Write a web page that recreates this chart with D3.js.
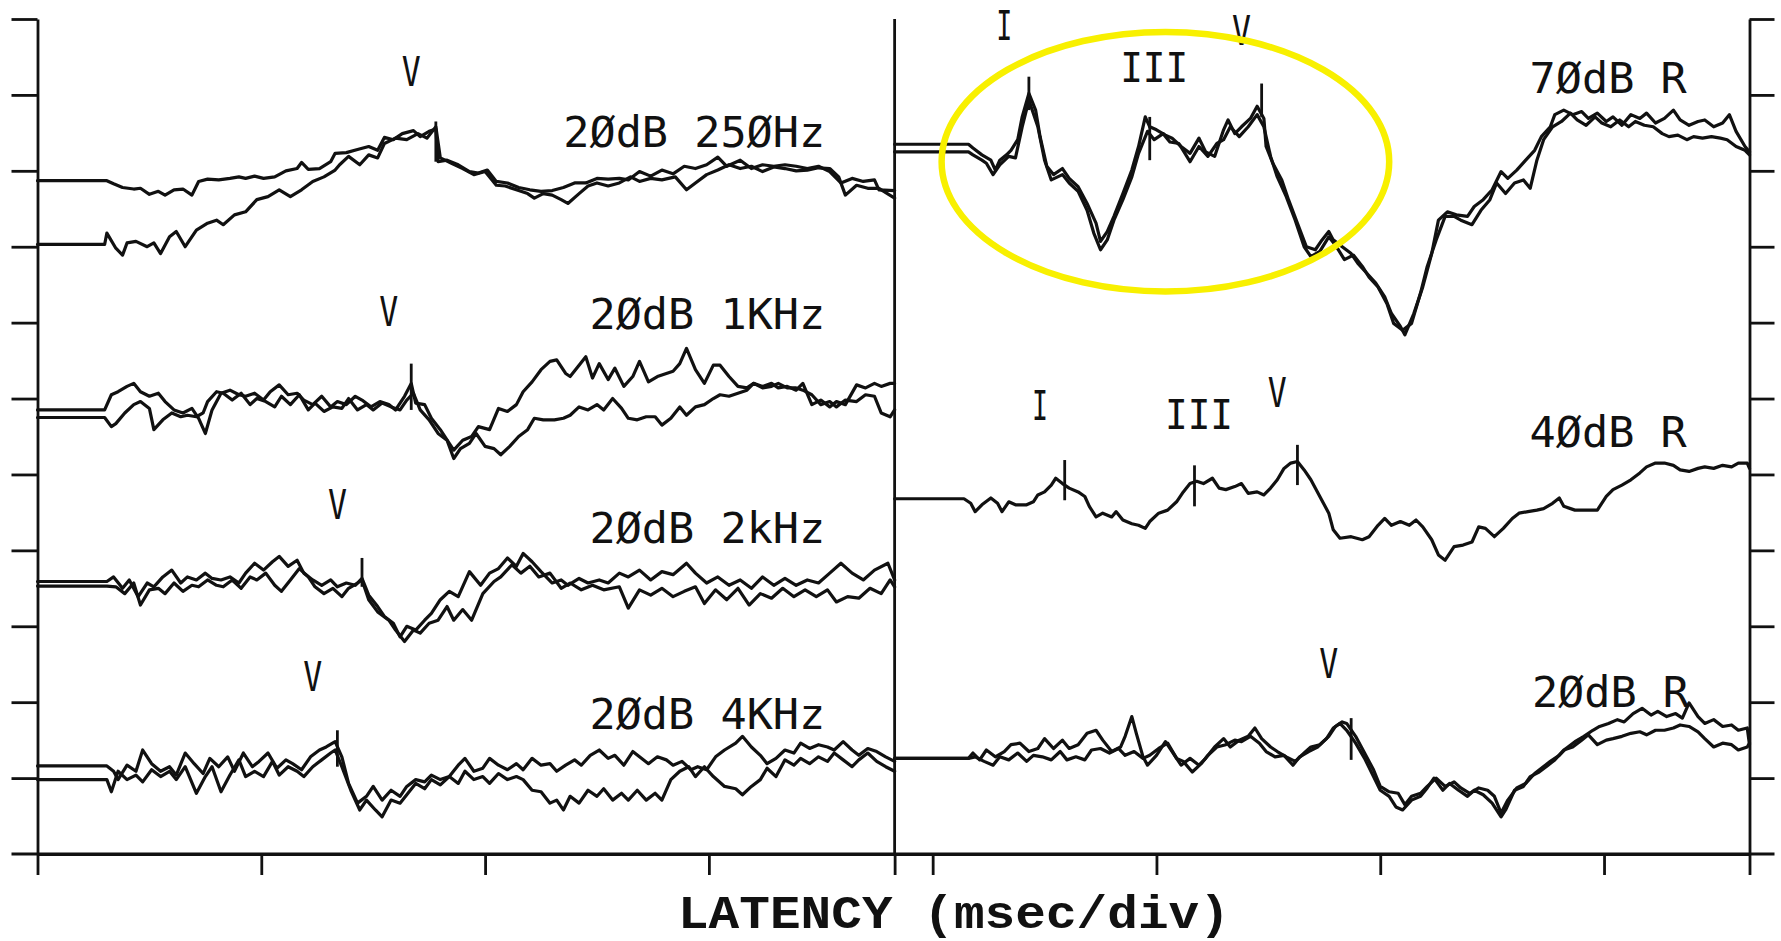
<!DOCTYPE html>
<html>
<head>
<meta charset="utf-8">
<script src="https://cdn.jsdelivr.net/npm/d3@7"></script>
<style>
  html, body { margin: 0; padding: 0; background: #fff; }
  svg { display: block; }
</style>
</head>
<body>
<svg id="chart" width="1781" height="941"></svg>
<script>
// Auditory brainstem responses: latency in divisions (x), amplitude in grid divisions (y).
// Left panel: tone bursts at 20 dB; right panel: clicks at 70 / 40 / 20 dB (right ear).

const xTicks = [0, 1, 2, 3, 4, 5, 6, 7];
const yTicks = [1, 2, 3, 4, 5, 6, 7, 8, 9, 10, 11];
const panelSplit = 3.83;   // divider between the two panels
const panelEnd = 7.65;     // right frame

// 20 dB 250 Hz, two replications
const hz250A = [[0,8.87],[0.31,8.87],[0.34,8.83],[0.38,8.78],[0.43,8.76],[0.46,8.77],[0.50,8.69],[0.54,8.73],[0.57,8.68],[0.61,8.75],[0.65,8.76],[0.69,8.68],[0.72,8.86],[0.76,8.89],[0.81,8.88],[0.86,8.90],[0.90,8.92],[0.93,8.90],[0.97,8.93],[1.01,8.90],[1.06,8.92],[1.11,9.00],[1.16,9.03],[1.18,9.11],[1.21,9.02],[1.26,9.03],[1.31,9.12],[1.33,9.23],[1.38,9.24],[1.43,9.28],[1.48,9.32],[1.52,9.27],[1.55,9.44],[1.59,9.41],[1.63,9.49],[1.68,9.53],[1.71,9.45],[1.75,9.52],[1.78,9.55],[1.79,9.12],[1.83,9.14],[1.88,9.08],[1.93,8.99],[1.97,8.97],[2.01,9.01],[2.05,8.86],[2.10,8.84],[2.15,8.78],[2.20,8.75],[2.25,8.73],[2.30,8.74],[2.35,8.78],[2.40,8.84],[2.45,8.84],[2.50,8.90],[2.55,8.89],[2.60,8.90],[2.64,8.88],[2.69,8.99],[2.74,8.93],[2.79,9.01],[2.84,8.96],[2.89,9.06],[2.94,9.03],[2.99,9.08],[3.04,9.18],[3.08,9.06],[3.14,9.14],[3.19,9.03],[3.24,9.08],[3.29,9.06],[3.34,9.08],[3.39,9.06],[3.44,9.03],[3.49,9.06],[3.54,8.99],[3.59,8.84],[3.64,8.90],[3.69,8.86],[3.74,8.88],[3.76,8.75],[3.83,8.74]];
const hz250B = [[0,8.03],[0.30,8.03],[0.31,8.18],[0.35,7.98],[0.38,7.89],[0.40,8.05],[0.44,8.07],[0.49,8.00],[0.52,8.05],[0.55,7.91],[0.59,8.13],[0.62,8.20],[0.66,8.00],[0.71,8.22],[0.76,8.31],[0.80,8.35],[0.83,8.29],[0.88,8.42],[0.93,8.46],[0.98,8.62],[1.03,8.66],[1.08,8.75],[1.13,8.66],[1.18,8.75],[1.23,8.86],[1.28,8.92],[1.33,9.01],[1.35,9.08],[1.39,9.19],[1.44,9.08],[1.48,9.21],[1.52,9.17],[1.55,9.36],[1.60,9.43],[1.65,9.41],[1.70,9.49],[1.74,9.43],[1.78,9.58],[1.80,9.17],[1.85,9.10],[1.90,9.03],[1.95,8.95],[2.00,8.99],[2.05,8.81],[2.09,8.80],[2.15,8.74],[2.19,8.70],[2.22,8.64],[2.26,8.70],[2.30,8.68],[2.34,8.62],[2.37,8.57],[2.42,8.70],[2.46,8.80],[2.50,8.84],[2.55,8.80],[2.60,8.84],[2.65,8.92],[2.69,8.86],[2.74,8.90],[2.79,8.88],[2.85,8.92],[2.90,8.75],[2.94,8.84],[2.99,8.95],[3.04,9.01],[3.09,9.08],[3.14,9.03],[3.19,9.06],[3.24,8.99],[3.29,9.05],[3.34,9.03],[3.39,9.00],[3.44,9.01],[3.49,9.04],[3.54,9.03],[3.58,8.92],[3.61,8.68],[3.66,8.81],[3.71,8.77],[3.76,8.77],[3.83,8.64]];

// 20 dB 1 kHz
const khz1A = [[0,5.85],[0.30,5.85],[0.33,6.05],[0.36,6.09],[0.40,6.16],[0.43,6.20],[0.46,6.09],[0.50,6.03],[0.54,6.07],[0.57,5.96],[0.61,5.85],[0.65,5.81],[0.69,5.87],[0.72,5.74],[0.75,5.54],[0.78,5.85],[0.82,6.07],[0.86,6.11],[0.90,6.05],[0.93,6.03],[0.97,6.07],[1.01,5.98],[1.04,6.09],[1.08,6.18],[1.12,6.05],[1.16,6.07],[1.19,5.98],[1.23,5.92],[1.27,6.03],[1.31,5.89],[1.34,5.96],[1.38,5.92],[1.42,6.03],[1.45,5.98],[1.49,5.89],[1.53,5.96],[1.57,5.92],[1.60,5.85],[1.64,6.03],[1.67,6.20],[1.69,5.94],[1.73,5.92],[1.76,5.74],[1.80,5.59],[1.84,5.41],[1.86,5.32],[1.90,5.45],[1.94,5.50],[1.97,5.63],[2.02,5.59],[2.06,5.87],[2.10,5.83],[2.14,5.92],[2.17,6.09],[2.21,6.22],[2.25,6.38],[2.29,6.49],[2.32,6.51],[2.36,6.33],[2.38,6.29],[2.42,6.44],[2.45,6.55],[2.48,6.27],[2.51,6.46],[2.55,6.25],[2.58,6.40],[2.62,6.16],[2.66,6.29],[2.69,6.49],[2.73,6.22],[2.77,6.29],[2.81,6.33],[2.84,6.36],[2.87,6.46],[2.90,6.66],[2.94,6.38],[2.98,6.20],[3.02,6.44],[3.05,6.44],[3.09,6.29],[3.13,6.16],[3.17,6.14],[3.20,6.20],[3.24,6.16],[3.28,6.20],[3.31,6.14],[3.35,6.16],[3.39,6.11],[3.42,6.20],[3.46,5.92],[3.50,5.98],[3.54,5.89],[3.57,5.96],[3.61,5.92],[3.66,6.18],[3.70,6.14],[3.74,6.20],[3.77,6.16],[3.81,6.20],[3.83,6.20]];
const khz1B = [[0,5.75],[0.30,5.75],[0.33,5.63],[0.35,5.67],[0.39,5.81],[0.43,5.92],[0.46,5.96],[0.50,5.87],[0.52,5.59],[0.56,5.72],[0.60,5.81],[0.64,5.76],[0.67,5.78],[0.71,5.76],[0.74,5.81],[0.76,5.96],[0.80,6.09],[0.83,6.07],[0.87,5.98],[0.91,6.07],[0.95,5.92],[0.98,6.00],[1.02,5.96],[1.06,5.89],[1.09,6.03],[1.13,5.92],[1.17,6.05],[1.21,5.85],[1.24,5.94],[1.28,5.83],[1.32,5.89],[1.36,5.87],[1.39,6.00],[1.43,5.85],[1.47,5.92],[1.50,5.85],[1.54,5.94],[1.58,5.89],[1.62,5.85],[1.65,5.98],[1.68,6.07],[1.71,5.85],[1.75,5.72],[1.79,5.54],[1.83,5.45],[1.86,5.21],[1.89,5.34],[1.93,5.41],[1.96,5.54],[2.00,5.37],[2.04,5.34],[2.07,5.26],[2.11,5.37],[2.15,5.50],[2.19,5.59],[2.22,5.74],[2.26,5.72],[2.31,5.72],[2.35,5.74],[2.38,5.78],[2.42,5.89],[2.46,5.85],[2.50,5.92],[2.53,5.85],[2.57,6.00],[2.61,5.87],[2.64,5.74],[2.68,5.72],[2.72,5.76],[2.76,5.76],[2.79,5.65],[2.83,5.74],[2.87,5.89],[2.90,5.78],[2.94,5.89],[2.98,5.92],[3.02,6.00],[3.05,6.05],[3.09,6.03],[3.13,6.07],[3.17,6.11],[3.20,6.20],[3.24,6.14],[3.28,6.16],[3.31,6.20],[3.35,6.14],[3.39,6.14],[3.42,6.11],[3.46,6.05],[3.50,5.92],[3.54,5.96],[3.57,5.89],[3.61,5.98],[3.66,5.96],[3.70,6.05],[3.74,6.03],[3.77,5.81],[3.81,5.76],[3.83,5.85]];

// 20 dB 2 kHz
const khz2A = [[0,3.59],[0.31,3.59],[0.34,3.65],[0.38,3.50],[0.41,3.61],[0.45,3.39],[0.49,3.57],[0.52,3.52],[0.56,3.65],[0.60,3.74],[0.64,3.57],[0.67,3.65],[0.71,3.61],[0.75,3.70],[0.78,3.63],[0.82,3.61],[0.86,3.65],[0.90,3.57],[0.93,3.70],[0.97,3.83],[1.01,3.74],[1.05,3.85],[1.08,3.92],[1.12,3.79],[1.16,3.87],[1.19,3.70],[1.23,3.61],[1.27,3.54],[1.31,3.61],[1.34,3.52],[1.38,3.57],[1.42,3.54],[1.45,3.63],[1.48,3.41],[1.52,3.26],[1.55,3.13],[1.59,3.04],[1.62,2.86],[1.65,3.00],[1.69,2.95],[1.73,3.08],[1.76,3.17],[1.80,3.35],[1.84,3.46],[1.88,3.39],[1.93,3.72],[1.98,3.54],[2.02,3.70],[2.06,3.76],[2.10,3.90],[2.14,3.79],[2.17,3.96],[2.21,3.85],[2.25,3.72],[2.30,3.57],[2.34,3.61],[2.37,3.54],[2.42,3.63],[2.46,3.57],[2.51,3.61],[2.55,3.57],[2.60,3.70],[2.64,3.65],[2.69,3.74],[2.74,3.61],[2.79,3.72],[2.84,3.68],[2.90,3.83],[2.94,3.70],[2.99,3.57],[3.04,3.65],[3.09,3.54],[3.14,3.61],[3.19,3.50],[3.24,3.65],[3.29,3.54],[3.34,3.63],[3.39,3.54],[3.44,3.61],[3.49,3.57],[3.54,3.70],[3.59,3.83],[3.64,3.70],[3.69,3.61],[3.74,3.74],[3.80,3.83],[3.83,3.61]];
const khz2B = [[0,3.53],[0.31,3.53],[0.35,3.52],[0.39,3.43],[0.43,3.57],[0.46,3.28],[0.50,3.48],[0.54,3.50],[0.57,3.43],[0.61,3.57],[0.65,3.46],[0.69,3.54],[0.72,3.52],[0.76,3.61],[0.80,3.54],[0.83,3.52],[0.87,3.61],[0.91,3.50],[0.95,3.65],[0.98,3.61],[1.02,3.70],[1.06,3.54],[1.09,3.46],[1.13,3.61],[1.17,3.76],[1.21,3.65],[1.24,3.52],[1.28,3.43],[1.32,3.50],[1.36,3.39],[1.39,3.50],[1.43,3.57],[1.45,3.61],[1.48,3.35],[1.52,3.19],[1.57,3.08],[1.60,2.95],[1.64,2.80],[1.68,2.95],[1.71,2.91],[1.75,3.04],[1.79,3.08],[1.83,3.26],[1.86,3.08],[1.90,3.22],[1.94,3.08],[1.99,3.43],[2.04,3.59],[2.07,3.65],[2.12,3.81],[2.16,3.70],[2.20,3.79],[2.24,3.65],[2.29,3.70],[2.34,3.50],[2.38,3.57],[2.43,3.48],[2.48,3.54],[2.53,3.48],[2.60,3.52],[2.64,3.24],[2.69,3.48],[2.74,3.41],[2.79,3.50],[2.84,3.39],[2.89,3.46],[2.94,3.52],[2.98,3.30],[3.03,3.48],[3.08,3.35],[3.13,3.50],[3.18,3.28],[3.23,3.43],[3.28,3.37],[3.33,3.50],[3.38,3.39],[3.43,3.48],[3.48,3.39],[3.53,3.48],[3.57,3.32],[3.62,3.39],[3.67,3.37],[3.72,3.50],[3.77,3.43],[3.81,3.61],[3.83,3.52]];

// 20 dB 4 kHz
const khz4A = [[0,1.16],[0.31,1.16],[0.34,1.09],[0.36,0.98],[0.40,1.17],[0.44,1.09],[0.47,1.37],[0.51,1.19],[0.55,1.09],[0.59,1.15],[0.62,1.04],[0.66,1.33],[0.70,1.19],[0.74,1.06],[0.77,1.26],[0.81,1.15],[0.85,1.28],[0.88,1.09],[0.92,1.33],[0.96,1.15],[0.99,1.22],[1.03,1.33],[1.07,1.13],[1.11,1.24],[1.14,1.19],[1.18,1.11],[1.22,1.28],[1.26,1.37],[1.29,1.41],[1.33,1.48],[1.36,1.28],[1.39,0.93],[1.43,0.67],[1.47,0.76],[1.50,0.89],[1.54,0.71],[1.58,0.84],[1.62,0.76],[1.65,0.89],[1.69,0.98],[1.73,0.95],[1.76,1.04],[1.80,0.98],[1.84,1.02],[1.88,1.17],[1.91,1.26],[1.95,1.09],[1.99,1.13],[2.02,1.26],[2.06,1.17],[2.10,1.11],[2.14,1.19],[2.17,1.11],[2.21,1.26],[2.25,1.17],[2.29,1.19],[2.32,1.09],[2.36,1.17],[2.40,1.24],[2.43,1.17],[2.47,1.30],[2.51,1.37],[2.55,1.26],[2.58,1.30],[2.62,1.17],[2.66,1.35],[2.69,1.28],[2.73,1.19],[2.77,1.28],[2.81,1.24],[2.84,1.17],[2.88,1.22],[2.92,1.11],[2.95,1.15],[2.99,1.11],[3.03,1.28],[3.07,1.37],[3.12,1.46],[3.15,1.55],[3.19,1.41],[3.23,1.30],[3.26,1.19],[3.30,1.26],[3.34,1.37],[3.38,1.33],[3.41,1.46],[3.45,1.39],[3.49,1.44],[3.53,1.41],[3.56,1.37],[3.60,1.48],[3.64,1.37],[3.67,1.30],[3.71,1.39],[3.75,1.35],[3.79,1.28],[3.83,1.22]];
const khz4B = [[0,0.98],[0.31,0.98],[0.33,0.82],[0.36,1.09],[0.40,0.98],[0.44,1.04],[0.47,0.95],[0.51,1.11],[0.55,1.02],[0.59,1.09],[0.62,0.98],[0.66,1.15],[0.71,0.80],[0.75,1.02],[0.78,1.15],[0.82,0.82],[0.86,1.04],[0.90,1.24],[0.93,1.02],[0.97,1.09],[1.01,1.02],[1.05,1.22],[1.08,1.04],[1.12,1.15],[1.16,1.09],[1.19,1.02],[1.23,1.15],[1.27,1.24],[1.31,1.33],[1.33,1.37],[1.36,1.15],[1.40,0.84],[1.44,0.58],[1.47,0.71],[1.51,0.58],[1.54,0.49],[1.58,0.71],[1.62,0.67],[1.65,0.78],[1.69,0.93],[1.73,0.86],[1.76,0.98],[1.80,0.91],[1.84,1.02],[1.88,0.93],[1.91,1.09],[1.95,0.98],[1.99,1.02],[2.02,0.93],[2.06,1.06],[2.10,0.98],[2.14,1.02],[2.17,0.98],[2.21,0.84],[2.25,0.82],[2.29,0.67],[2.32,0.71],[2.35,0.58],[2.38,0.76],[2.42,0.67],[2.46,0.84],[2.50,0.76],[2.53,0.86],[2.57,0.71],[2.61,0.80],[2.64,0.71],[2.68,0.84],[2.72,0.71],[2.76,0.80],[2.79,0.71],[2.83,0.98],[2.87,1.09],[2.91,1.15],[2.94,1.02],[2.98,1.15],[3.02,1.02],[3.07,0.89],[3.12,0.86],[3.15,0.78],[3.19,0.89],[3.23,0.98],[3.26,1.13],[3.30,1.02],[3.34,1.24],[3.38,1.17],[3.41,1.26],[3.45,1.19],[3.49,1.28],[3.53,1.22],[3.56,1.33],[3.60,1.24],[3.64,1.15],[3.67,1.24],[3.71,1.33],[3.75,1.22],[3.79,1.15],[3.83,1.09]];

// 70 dB click, right ear
const r70A = [[3.83,9.35],[4.16,9.35],[4.18,9.30],[4.22,9.21],[4.26,9.14],[4.28,9.01],[4.30,9.14],[4.33,9.21],[4.35,9.27],[4.38,9.41],[4.40,9.71],[4.43,10.02],[4.46,9.80],[4.48,9.45],[4.51,9.06],[4.54,8.95],[4.58,9.03],[4.61,8.90],[4.65,8.79],[4.69,8.57],[4.73,8.31],[4.75,8.07],[4.78,8.20],[4.81,8.40],[4.85,8.70],[4.89,9.01],[4.92,9.32],[4.95,9.71],[4.97,9.58],[5.00,9.54],[5.04,9.47],[5.07,9.43],[5.11,9.32],[5.15,9.23],[5.19,9.43],[5.22,9.25],[5.26,9.19],[5.30,9.54],[5.32,9.67],[5.35,9.49],[5.38,9.58],[5.42,9.69],[5.45,9.85],[5.48,9.69],[5.49,9.32],[5.52,9.10],[5.56,8.88],[5.59,8.62],[5.63,8.31],[5.67,8.00],[5.71,7.96],[5.74,8.09],[5.77,8.20],[5.79,8.09],[5.83,8.00],[5.87,7.91],[5.90,7.78],[5.94,7.65],[5.98,7.52],[6.02,7.34],[6.05,7.12],[6.09,6.95],[6.11,6.84],[6.15,7.12],[6.19,7.47],[6.23,7.91],[6.26,8.35],[6.30,8.46],[6.34,8.42],[6.39,8.40],[6.42,8.53],[6.46,8.62],[6.50,8.75],[6.54,8.99],[6.57,8.90],[6.61,9.01],[6.65,9.14],[6.69,9.27],[6.72,9.45],[6.76,9.58],[6.78,9.74],[6.82,9.80],[6.86,9.74],[6.90,9.78],[6.93,9.69],[6.97,9.76],[7.01,9.65],[7.04,9.71],[7.08,9.60],[7.12,9.74],[7.16,9.69],[7.19,9.76],[7.23,9.63],[7.27,9.69],[7.31,9.80],[7.34,9.67],[7.38,9.60],[7.42,9.65],[7.45,9.67],[7.49,9.58],[7.53,9.63],[7.56,9.74],[7.59,9.52],[7.63,9.32],[7.65,9.25]];
const r70B = [[3.83,9.25],[4.16,9.25],[4.18,9.21],[4.22,9.14],[4.24,9.10],[4.27,8.95],[4.30,9.08],[4.34,9.19],[4.37,9.17],[4.40,9.58],[4.43,9.93],[4.47,9.58],[4.50,9.14],[4.53,8.88],[4.58,8.95],[4.61,8.84],[4.65,8.73],[4.69,8.48],[4.72,8.18],[4.75,7.96],[4.78,8.09],[4.81,8.35],[4.85,8.62],[4.89,8.92],[4.92,9.23],[4.96,9.52],[4.99,9.41],[5.03,9.49],[5.06,9.38],[5.10,9.36],[5.15,9.12],[5.19,9.32],[5.23,9.19],[5.27,9.36],[5.30,9.41],[5.33,9.58],[5.37,9.45],[5.41,9.58],[5.45,9.74],[5.48,9.58],[5.51,9.19],[5.54,8.92],[5.58,8.66],[5.62,8.35],[5.66,8.00],[5.69,7.87],[5.73,7.94],[5.77,8.13],[5.80,8.02],[5.84,7.83],[5.88,7.89],[5.92,7.74],[5.95,7.60],[5.99,7.47],[6.03,7.25],[6.06,6.99],[6.10,6.90],[6.14,6.99],[6.18,7.39],[6.21,7.74],[6.25,8.09],[6.29,8.40],[6.33,8.40],[6.36,8.35],[6.41,8.29],[6.45,8.48],[6.49,8.62],[6.52,8.84],[6.56,8.70],[6.60,8.84],[6.64,8.88],[6.67,8.77],[6.70,9.14],[6.73,9.41],[6.77,9.58],[6.81,9.65],[6.85,9.76],[6.88,9.67],[6.92,9.60],[6.96,9.71],[6.99,9.63],[7.03,9.58],[7.07,9.67],[7.11,9.58],[7.14,9.65],[7.18,9.60],[7.22,9.58],[7.26,9.49],[7.29,9.45],[7.33,9.47],[7.37,9.41],[7.40,9.45],[7.44,9.43],[7.48,9.45],[7.52,9.43],[7.55,9.41],[7.59,9.32],[7.63,9.27],[7.65,9.21]];

// 40 dB click, right ear (single run)
const r40 = [[3.83,4.68],[4.14,4.68],[4.17,4.62],[4.19,4.51],[4.22,4.60],[4.26,4.69],[4.29,4.62],[4.31,4.51],[4.34,4.64],[4.37,4.60],[4.42,4.60],[4.45,4.64],[4.47,4.73],[4.50,4.77],[4.53,4.86],[4.55,4.95],[4.58,4.88],[4.61,4.82],[4.65,4.77],[4.68,4.71],[4.70,4.58],[4.73,4.44],[4.76,4.49],[4.80,4.44],[4.82,4.51],[4.85,4.40],[4.89,4.35],[4.92,4.33],[4.95,4.29],[4.97,4.38],[5.01,4.49],[5.05,4.53],[5.09,4.64],[5.12,4.77],[5.15,4.88],[5.18,4.91],[5.21,4.88],[5.25,4.95],[5.28,4.82],[5.31,4.80],[5.35,4.84],[5.38,4.88],[5.41,4.75],[5.45,4.77],[5.48,4.73],[5.51,4.82],[5.54,4.93],[5.57,5.08],[5.60,5.15],[5.63,5.17],[5.66,5.06],[5.69,4.93],[5.73,4.71],[5.77,4.49],[5.79,4.27],[5.82,4.16],[5.87,4.18],[5.92,4.14],[5.95,4.18],[5.99,4.33],[6.02,4.42],[6.05,4.33],[6.09,4.38],[6.13,4.33],[6.16,4.40],[6.19,4.31],[6.23,4.14],[6.26,3.94],[6.29,3.87],[6.33,4.05],[6.37,4.07],[6.41,4.11],[6.44,4.31],[6.47,4.29],[6.51,4.18],[6.55,4.29],[6.59,4.42],[6.62,4.49],[6.66,4.51],[6.70,4.53],[6.73,4.55],[6.77,4.62],[6.80,4.69],[6.82,4.58],[6.87,4.53],[6.93,4.53],[6.97,4.53],[7.01,4.71],[7.04,4.80],[7.08,4.86],[7.12,4.93],[7.16,5.02],[7.19,5.10],[7.23,5.15],[7.27,5.15],[7.31,5.12],[7.34,5.06],[7.38,5.04],[7.42,5.08],[7.45,5.10],[7.49,5.08],[7.53,5.12],[7.57,5.10],[7.60,5.15],[7.64,5.15],[7.65,5.08]];

// 20 dB click, right ear
const r20A = [[3.83,1.26],[4.16,1.26],[4.18,1.33],[4.21,1.24],[4.24,1.37],[4.28,1.28],[4.32,1.35],[4.35,1.44],[4.39,1.46],[4.43,1.35],[4.47,1.39],[4.50,1.52],[4.54,1.39],[4.58,1.50],[4.61,1.39],[4.65,1.44],[4.69,1.59],[4.73,1.63],[4.76,1.50],[4.80,1.35],[4.84,1.41],[4.86,1.55],[4.89,1.81],[4.91,1.59],[4.94,1.28],[4.96,1.17],[5.00,1.30],[5.04,1.48],[5.07,1.35],[5.11,1.17],[5.15,1.26],[5.19,1.17],[5.22,1.26],[5.26,1.41],[5.30,1.52],[5.33,1.41],[5.37,1.50],[5.41,1.55],[5.44,1.66],[5.47,1.52],[5.51,1.41],[5.54,1.35],[5.58,1.28],[5.62,1.22],[5.66,1.33],[5.69,1.41],[5.73,1.44],[5.77,1.55],[5.80,1.68],[5.83,1.74],[5.85,1.72],[5.89,1.55],[5.93,1.33],[5.97,1.11],[6.00,0.89],[6.04,0.82],[6.08,0.80],[6.11,0.65],[6.14,0.76],[6.18,0.80],[6.21,0.89],[6.25,1.00],[6.29,0.89],[6.33,0.95],[6.36,0.87],[6.40,0.80],[6.44,0.87],[6.48,0.84],[6.51,0.76],[6.54,0.54],[6.57,0.71],[6.61,0.87],[6.65,0.93],[6.69,1.06],[6.72,1.13],[6.76,1.22],[6.80,1.30],[6.83,1.39],[6.87,1.48],[6.91,1.55],[6.95,1.63],[6.98,1.68],[7.02,1.72],[7.06,1.77],[7.09,1.74],[7.13,1.85],[7.17,1.92],[7.21,1.83],[7.24,1.88],[7.28,1.81],[7.32,1.85],[7.35,1.79],[7.38,1.99],[7.42,1.81],[7.45,1.72],[7.49,1.77],[7.53,1.68],[7.57,1.70],[7.60,1.63],[7.64,1.66],[7.65,1.44]];
const r20B = [[3.83,1.26],[4.16,1.26],[4.19,1.28],[4.23,1.22],[4.27,1.17],[4.30,1.28],[4.34,1.24],[4.38,1.33],[4.42,1.22],[4.45,1.30],[4.49,1.28],[4.53,1.24],[4.57,1.35],[4.60,1.24],[4.64,1.28],[4.68,1.24],[4.71,1.37],[4.75,1.39],[4.79,1.33],[4.83,1.39],[4.86,1.30],[4.90,1.35],[4.94,1.26],[4.97,1.30],[5.01,1.39],[5.05,1.46],[5.09,1.26],[5.12,1.22],[5.16,1.08],[5.20,1.19],[5.23,1.30],[5.27,1.41],[5.31,1.44],[5.35,1.50],[5.38,1.48],[5.42,1.55],[5.46,1.46],[5.49,1.35],[5.53,1.28],[5.57,1.30],[5.61,1.17],[5.64,1.28],[5.68,1.35],[5.72,1.41],[5.76,1.52],[5.79,1.66],[5.82,1.72],[5.85,1.63],[5.89,1.46],[5.93,1.26],[5.97,1.02],[6.00,0.84],[6.04,0.76],[6.07,0.62],[6.10,0.58],[6.14,0.71],[6.18,0.76],[6.21,0.87],[6.24,1.00],[6.28,0.84],[6.31,0.93],[6.35,0.84],[6.39,0.76],[6.42,0.84],[6.46,0.78],[6.50,0.67],[6.54,0.49],[6.56,0.58],[6.60,0.84],[6.64,0.89],[6.67,1.02],[6.71,1.08],[6.75,1.17],[6.78,1.24],[6.82,1.37],[6.86,1.41],[6.90,1.50],[6.93,1.57],[6.97,1.44],[7.01,1.50],[7.04,1.52],[7.08,1.55],[7.12,1.59],[7.16,1.61],[7.19,1.57],[7.23,1.63],[7.27,1.63],[7.31,1.66],[7.34,1.70],[7.38,1.68],[7.42,1.61],[7.45,1.52],[7.49,1.41],[7.53,1.46],[7.57,1.44],[7.60,1.37],[7.64,1.41],[7.65,1.46]];

const traces = [hz250A, hz250B, khz1A, khz1B, khz2A, khz2B, khz4A, khz4B, r70A, r70B, r40, r20A, r20B];

// Cursor marks placed on the identified waves: [latency, top, bottom]
const waveMarks = [
  [1.78, 9.65, 9.12], [1.67, 6.46, 5.85], [1.45, 3.90, 3.52], [1.34, 1.63, 1.15],
  [4.43, 10.24, 9.80], [4.97, 9.71, 9.14], [5.47, 10.15, 9.71],
  [4.59, 5.19, 4.66], [5.17, 5.12, 4.58], [5.63, 5.39, 4.86],
  [5.87, 1.79, 1.24]
];

// Wave names
const waveNames = ["V", "V", "V", "V", "I", "III", "V", "I", "III", "V", "V"];
const waveNameX = [1.67, 1.57, 1.34, 1.23, 4.32, 4.99, 5.38, 4.48, 5.19, 5.54, 5.77];
const waveNameY = [10.12, 6.96, 4.41, 2.15, 10.72, 10.17, 10.66, 5.72, 5.60, 5.89, 2.32];

// Stimulus captions (right end, baseline)
const captions = ["2ØdB 25ØHz", "2ØdB 1KHz", "2ØdB 2kHz", "2ØdB 4KHz", "7ØdB R", "4ØdB R", "2ØdB R"];
const captionX = [3.52, 3.52, 3.52, 3.52, 7.37, 7.37, 7.38];
const captionY = [9.31, 6.92, 4.10, 1.65, 10.03, 5.36, 1.94];

// Highlight around waves I–V at 70 dB: centre (x, y) and radii in axis units
const highlight = { cx: 5.04, cy: 9.12, rx: 1.0, ry: 1.71 };

const xLabel = "LATENCY (msec/div)";

// ---------------------------------------------------------------------------
const svg = d3.select("#chart");
const x = d3.scaleLinear().domain([0, panelEnd]).range([37.5, 1749.5]);
const y = d3.scaleLinear().domain([0, 11]).range([854, 19]);
const ink = "#111";

const frame = svg.append("g").attr("stroke", ink).attr("stroke-width", 2.8).attr("fill", "none");

// Left axis with ticks pointing out
const leftAxis = svg.append("g").attr("transform", `translate(${x(0)},0)`)
  .call(d3.axisLeft(y).tickValues(yTicks).tickSize(26).tickSizeOuter(0).tickFormat(""));
// Right axis
const rightAxis = svg.append("g").attr("transform", `translate(${x(panelEnd)},0)`)
  .call(d3.axisRight(y).tickValues(yTicks).tickSize(25).tickSizeOuter(0).tickFormat(""));
// Bottom axis: latency divisions plus the panel edges
const bottomAxis = svg.append("g").attr("transform", `translate(0,${y(0)})`)
  .call(d3.axisBottom(x).tickValues(xTicks.concat([panelSplit, panelEnd])).tickSize(21).tickSizeOuter(0).tickFormat(""));

[leftAxis, rightAxis, bottomAxis].forEach(g => {
  g.selectAll("path.domain").attr("stroke", ink).attr("stroke-width", 2.8);
  g.selectAll(".tick line").attr("stroke", ink).attr("stroke-width", 2.8);
});

// Baseline running the full width, out to the tick ends
frame.append("line")
  .attr("x1", x(0) - 26).attr("x2", x(panelEnd) + 25)
  .attr("y1", y(0)).attr("y2", y(0)).attr("stroke-width", 3.2);
// Panel divider
frame.append("line")
  .attr("x1", x(panelSplit)).attr("x2", x(panelSplit))
  .attr("y1", y(11)).attr("y2", y(0));

// Waveforms
const line = d3.line().x(d => x(d[0])).y(d => y(d[1]));
svg.append("g").selectAll("path").data(traces).join("path")
  .attr("d", line)
  .attr("fill", "none")
  .attr("stroke", ink)
  .attr("stroke-width", 3.2)
  .attr("stroke-linejoin", "round")
  .attr("stroke-linecap", "round");

// Wave cursors
svg.append("g").selectAll("line").data(waveMarks).join("line")
  .attr("x1", d => x(d[0])).attr("x2", d => x(d[0]))
  .attr("y1", d => y(d[1])).attr("y2", d => y(d[2]))
  .attr("stroke", ink).attr("stroke-width", 2.8);

// Wave names
svg.append("g").selectAll("text").data(waveNames).join("text")
  .attr("x", (d, i) => x(waveNameX[i]))
  .attr("y", (d, i) => y(waveNameY[i]))
  .attr("text-anchor", "middle")
  .attr("font-family", "'DejaVu Sans Mono', monospace")
  .attr("font-size", 41)
  .attr("fill", ink)
  .attr("textLength", d => d.length === 1 ? (d === "V" ? 19 : 16) : 68)
  .attr("lengthAdjust", "spacingAndGlyphs")
  .text(d => d);

// Stimulus captions
svg.append("g").selectAll("text").data(captions).join("text")
  .attr("x", (d, i) => x(captionX[i]))
  .attr("y", (d, i) => y(captionY[i]))
  .attr("text-anchor", "end")
  .attr("font-family", "'DejaVu Sans Mono', monospace")
  .attr("font-size", 42)
  .attr("fill", ink)
  .attr("textLength", d => d.length * 26.2)
  .attr("lengthAdjust", "spacingAndGlyphs")
  .text(d => d);

// Highlight ellipse
svg.append("ellipse")
  .attr("cx", x(highlight.cx)).attr("cy", y(highlight.cy))
  .attr("rx", x(highlight.rx) - x(0)).attr("ry", y(0) - y(highlight.ry))
  .attr("fill", "none").attr("stroke", "#f8f000").attr("stroke-width", 6.5);

// Axis title
svg.append("text")
  .attr("x", x(4.095)).attr("y", y(0) + 74)
  .attr("text-anchor", "middle")
  .attr("font-family", "'Liberation Mono', 'Courier New', monospace")
  .attr("font-weight", "bold")
  .attr("font-size", 47)
  .attr("fill", ink)
  .attr("textLength", 552)
  .attr("lengthAdjust", "spacingAndGlyphs")
  .text(xLabel);
</script>
</body>
</html>
